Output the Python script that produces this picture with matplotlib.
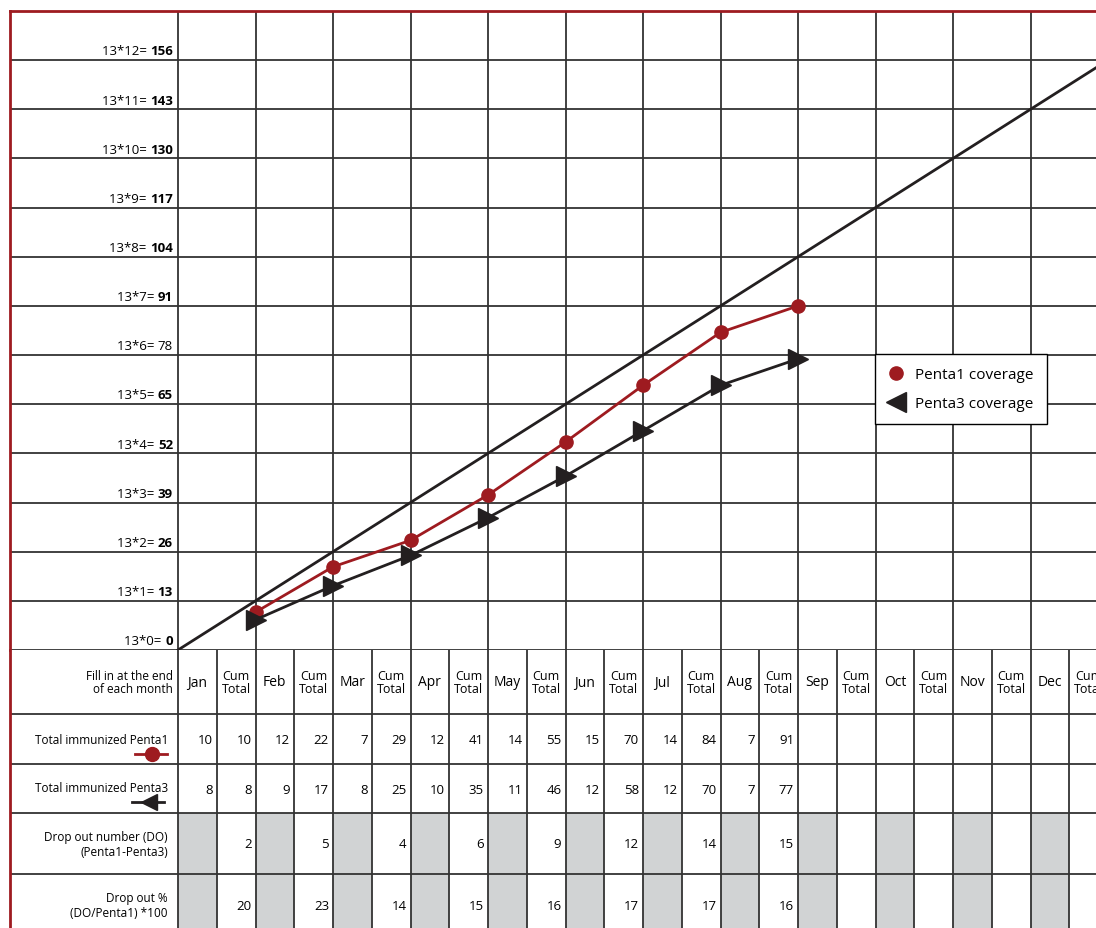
import numpy as np
import matplotlib.pyplot as plt
from matplotlib.lines import Line2D
from matplotlib.patches import Rectangle

plt.rcParams['font.family'] = ['Open Sans', 'DejaVu Sans']

months = ['Jan', 'Feb', 'Mar', 'Apr', 'May', 'Jun', 'Jul', 'Aug', 'Sep', 'Oct', 'Nov', 'Dec']
penta1_month = [10, 12, 7, 12, 14, 15, 14, 7]
penta1_cum = [10, 22, 29, 41, 55, 70, 84, 91]
penta3_month = [8, 9, 8, 10, 11, 12, 12, 7]
penta3_cum = [8, 17, 25, 35, 46, 58, 70, 77]
dropout_num = [2, 5, 4, 6, 9, 12, 14, 15]
dropout_pct = [20, 23, 14, 15, 16, 17, 17, 16]
monthly_target = 13
bold_levels = [0, 13, 26, 39, 52, 65, 91, 104, 117, 130, 143, 156]

RED = '#9e1b20'
GRID = '#333333'
W, H = 1096, 929
MW = 77.5  # largeur d'un mois en pixels


def frame(x0, y0, x1, y1):
    return [x0 / W, 1 - y1 / H, (x1 - x0) / W, (y1 - y0) / H]


fig = plt.figure(figsize=(W / 100, H / 100), dpi=100)
x_left = -168 / MW

# Partie graphique
ax = fig.add_axes(frame(10, 12, 1108, 651))
ax.set_xlim(x_left, 12)
ax.set_ylim(0, 13 * monthly_target)
ax.set_xticks([])
ax.set_yticks([])
for s in ['right', 'bottom']:
    ax.spines[s].set_visible(False)
for s in ['left', 'top']:
    ax.spines[s].set_color(RED)
    ax.spines[s].set_linewidth(2)

levels = np.arange(13) * monthly_target
ax.hlines(levels, x_left, 12, color=GRID, lw=1.3, clip_on=False, zorder=1)
ax.vlines(np.arange(13), 0, 13 * monthly_target, color=GRID, lw=1.3, zorder=1)

for k, v in enumerate(levels):
    num = ax.annotate(str(v), xy=(-0.065, v), xytext=(0, 2), textcoords='offset points',
                      ha='right', va='bottom', fontsize=9.5,
                      fontweight='bold' if v in bold_levels else 'normal')
    ax.annotate(f"13*{k}= ", xy=(0, 0), xycoords=num, ha='right', va='bottom', fontsize=9.5)

# Ligne cible
t = np.arange(13)
ax.plot(t, t * monthly_target, color='#231f20', lw=2, zorder=3)

# Couvertures cumulées
x_end = np.arange(1, len(penta1_cum) + 1)
ax.plot(x_end, penta1_cum, color=RED, lw=2, marker='o', ms=9.5, zorder=4)
ax.plot(x_end, penta3_cum, color='#231f20', lw=2, marker='>', ms=14, zorder=4)

handles = [Line2D([], [], ls='', marker='o', color=RED, ms=9.5),
           Line2D([], [], ls='', marker='<', color='#231f20', ms=15)]
fig.legend(handles, ['Penta1 coverage', 'Penta3 coverage'], loc='upper left',
           bbox_to_anchor=(875 / W, 1 - 355 / H), borderaxespad=0, fontsize=11,
           fancybox=False, edgecolor='black', framealpha=1, handlelength=1,
           handletextpad=0.8, labelspacing=0.95, borderpad=0.85)

# Tableau
tb = fig.add_axes(frame(10, 651, 1108, 940))
tb.set_xlim(x_left, 12)
tb.set_ylim(940, 651)
tb.set_xticks([])
tb.set_yticks([])
for s in ['right', 'bottom', 'top']:
    tb.spines[s].set_visible(False)
tb.spines['left'].set_color(RED)
tb.spines['left'].set_linewidth(2)

rows = [651, 715, 765, 814, 875]
centers = [683, 741, 790, 845, 906]
for m in range(12):
    for y0 in rows[3:]:
        tb.add_patch(Rectangle((m, y0), 0.5, 61 if y0 == 814 else 70, color='#d1d3d4', lw=0, zorder=0))
tb.hlines(rows[1:], x_left, 12, color=GRID, lw=1.3, zorder=1)
tb.vlines(np.arange(0, 12.5, 0.5), 651, 940, color=GRID, lw=1.3, zorder=1)

for m, name in enumerate(months):
    tb.text(m + 0.25, centers[0], name, ha='center', va='center', fontsize=10)
    tb.text(m + 0.75, centers[0], 'Cum\nTotal', ha='center', va='center', fontsize=9, linespacing=1.0)

tb.text(-0.065, centers[0], 'Fill in at the end\nof each month', ha='right', va='center',
        fontsize=8.5, linespacing=1.05)
tb.text(-0.13, centers[1] - 1, 'Total immunized Penta1', ha='right', va='center', fontsize=8.5)
tb.text(-0.13, centers[2] - 1, 'Total immunized Penta3', ha='right', va='center', fontsize=8.5)
tb.text(-0.13, centers[3], 'Drop out number (DO)\n(Penta1-Penta3)', ha='right', va='center',
        fontsize=8.5, linespacing=1.15)
tb.text(-0.13, centers[4], 'Drop out %\n(DO/Penta1) *100', ha='right', va='center',
        fontsize=8.5, linespacing=1.15)

# Symboles sous les libellés
tb.plot([-0.555, -0.14], [755, 755], color=RED, lw=2)
tb.plot([-0.335], [755], marker='o', color=RED, ms=10)
tb.plot([-0.59, -0.18], [803, 803], color='#231f20', lw=2)
tb.plot([-0.37], [803], marker='<', color='#231f20', ms=11)

pad = 4 / MW
for m in range(len(penta1_month)):
    tb.text(m + 0.5 - pad, centers[1], str(penta1_month[m]), ha='right', va='center', fontsize=9.5)
    tb.text(m + 1 - pad, centers[1], str(penta1_cum[m]), ha='right', va='center', fontsize=9.5)
    tb.text(m + 0.5 - pad, centers[2], str(penta3_month[m]), ha='right', va='center', fontsize=9.5)
    tb.text(m + 1 - pad, centers[2], str(penta3_cum[m]), ha='right', va='center', fontsize=9.5)
    tb.text(m + 1 - pad, centers[3], str(dropout_num[m]), ha='right', va='center', fontsize=9.5)
    tb.text(m + 1 - pad, centers[4], str(dropout_pct[m]), ha='right', va='center', fontsize=9.5)

fig.savefig('out.png', dpi=100)
